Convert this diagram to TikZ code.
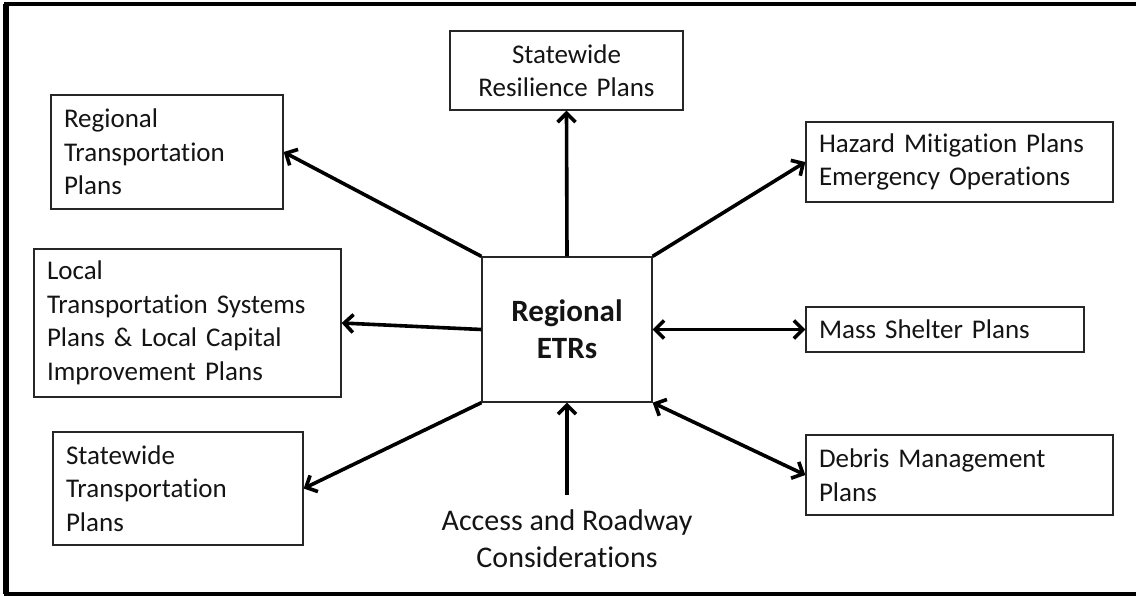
\documentclass[tikz,border=0pt]{standalone}
\usepackage{fontspec}
\setmainfont{Carlito}[Ligatures=NoCommon]
\usetikzlibrary{arrows.meta}
\tikzset{
  box/.style={draw=black!85, line width=1.3pt, rectangle, inner xsep=13pt, inner ysep=0pt,
    align=left, text=black!92, font=\fontsize{27}{33.5}\selectfont},
  centerbox/.style={draw=black!85, line width=1.3pt, rectangle, inner sep=0pt,
    align=center, text=black!92, font=\fontsize{31}{37}\selectfont\bfseries},
  arr/.style={line width=3.6pt, draw=black, -{Straight Barb[length=9pt,width=18pt]}},
  darr/.style={line width=3.6pt, draw=black, {Straight Barb[length=9pt,width=18pt]}-{Straight Barb[length=9pt,width=18pt]}},
  plain/.style={text=black!92, align=center, font=\fontsize{30}{37}\selectfont}
}
\begin{document}
\begin{tikzpicture}[x=1pt,y=-1pt]
\useasboundingbox (0,0) rectangle (1136,596);
% outer frame (right side cut off)
\draw[line width=4.5pt, line join=miter] (1140,4) -- (6,4) -- (6,594) -- (1140,594);
\draw[line width=5.5pt] (6.2,4) -- (6.2,594);

\node[centerbox, minimum width=170pt, minimum height=145pt] (etr) at (567,329.5) {Regional\\ETRs};

\node[box, text width=206pt, minimum height=114pt] (rt) at (167,152) {Regional\\Transportation\\Plans};
\node[box, text width=281pt, minimum height=148pt] (lt) at (187.5,323) {Local\\Transportation Systems\\Plans \& Local Capital\\Improvement Plans};
\node[box, text width=224pt, minimum height=113pt] (st) at (178,488.5) {Statewide\\Transportation\\Plans};
\node[box, align=center, text width=207pt, minimum height=79pt] (sr) at (566.5,70.5) {Statewide\\Resilience Plans};
\node[box, text width=281pt, minimum height=80pt] (hz) at (959.5,162) {Hazard Mitigation Plans\\Emergency Operations};
\node[box, text width=252pt, minimum height=45pt] (ms) at (945,329.5) {Mass Shelter Plans};
\node[box, text width=281pt, minimum height=80pt] (db) at (959.5,475) {Debris Management\\Plans};

\node[plain, anchor=north, inner xsep=0pt, inner ysep=14pt] (acc) at (567,495) {Access and Roadway\\Considerations};

\draw[arr] (etr.north west) -- (rt.east);
\draw[arr] (etr.north) -- (sr.south);
\draw[arr] (etr.north east) -- (hz.west);
\draw[arr] (etr.west) -- (lt.east);
\draw[arr] (etr.south west) -- (st.east);
\draw[darr] (etr.east) -- (ms.west);
\draw[darr] (etr.south east) -- (db.west);
\draw[arr] (acc.north) -- (etr.south);
\end{tikzpicture}
\end{document}
